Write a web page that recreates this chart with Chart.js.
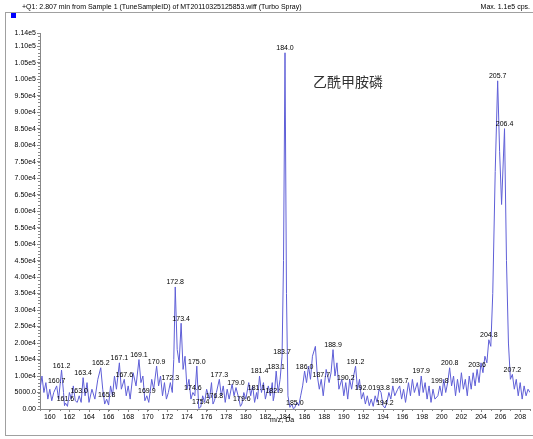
<!DOCTYPE html>
<html><head><meta charset="utf-8">
<script src="https://cdn.jsdelivr.net/npm/chart.js@4.4.0/dist/chart.umd.min.js"></script>
<style>
html,body{margin:0;padding:0;background:#fff;}
#wrap{position:relative;width:533px;height:439px;overflow:hidden;font-family:"Liberation Sans",Arial,sans-serif;}
canvas{position:absolute;left:0;top:0;}
.t{position:absolute;white-space:nowrap;color:#000;line-height:1;}
.ln{position:absolute;background:#a0a0a0;}
</style></head><body>
<div id="wrap">
<canvas id="c" width="533" height="439"></canvas>
<div class="ln" style="left:5px;top:12px;width:528px;height:1px;"></div>
<div class="ln" style="left:5px;top:12px;width:1px;height:424px;"></div>
<div class="ln" style="left:5px;top:435px;width:528px;height:1px;"></div>
<div style="position:absolute;left:11px;top:13px;width:5px;height:5px;background:#0000ff;"></div>
<div class="t" style="left:22px;top:3px;font-size:7px;">+Q1: 2.807 min from Sample 1 (TuneSampleID) of MT20110325125853.wiff (Turbo Spray)</div>
<div class="t" style="right:3px;top:3px;font-size:7px;">Max. 1.1e5 cps.</div>
<div class="t" style="left:313px;top:74px;font-size:14px;font-family:'Noto Sans CJK SC';color:#333;">乙酰甲胺磷</div>
<div class="t" style="left:270px;top:416px;font-size:7px;">m/z, Da</div>
</div>
<script>
// Q1 profile spectrum: m/z and intensity (cps)
const mz = [
159.0,159.2,159.4,159.6,159.8,160.0,160.2,160.4,160.7,160.9,161.2,161.4,161.5,161.6,161.8,
162.0,162.2,162.4,162.6,162.8,163.0,163.2,163.4,163.6,163.8,164.0,164.3,164.6,164.9,165.2,
165.4,165.6,165.8,166.0,166.2,166.4,166.6,166.8,167.1,167.3,167.6,167.8,168.0,168.2,168.5,
168.8,169.1,169.3,169.5,169.7,169.9,170.1,170.4,170.6,170.9,171.1,171.3,171.5,171.7,171.9,
172.1,172.3,172.5,172.65,172.8,173.0,173.2,173.4,173.6,173.8,174.0,174.2,174.4,174.6,174.8,
175.0,175.2,175.4,175.6,175.8,176.0,176.3,176.5,176.65,176.8,177.0,177.3,177.5,177.7,177.9,
178.1,178.3,178.6,178.8,179.0,179.3,179.45,179.6,179.8,180.0,180.3,180.5,180.7,180.9,181.1,
181.2,181.4,181.6,181.8,182.0,182.3,182.5,182.7,182.8,182.9,183.1,183.3,183.5,183.7,183.85,
184.0,184.15,184.3,184.5,184.7,184.85,185.0,185.2,185.4,185.6,185.8,186.0,186.2,186.4,186.6,
186.8,187.1,187.3,187.5,187.7,187.9,188.2,188.5,188.7,188.9,189.1,189.3,189.5,189.8,190.0,
190.2,190.4,190.6,190.8,191.0,191.2,191.4,191.6,191.8,192.0,192.2,192.4,192.6,192.8,193.0,
193.2,193.4,193.6,193.8,194.0,194.2,194.4,194.6,194.8,195.0,195.2,195.5,195.7,195.9,196.1,
196.3,196.6,196.8,197.0,197.2,197.5,197.7,197.9,198.1,198.3,198.5,198.7,198.9,199.1,199.3,
199.6,199.8,200.0,200.2,200.4,200.6,200.8,201.0,201.2,201.4,201.6,201.8,202.0,202.2,202.4,
202.6,202.8,203.0,203.2,203.4,203.6,203.8,204.0,204.2,204.4,204.6,204.8,205.0,205.2,205.45,
205.7,205.9,206.1,206.4,206.6,206.8,207.0,207.2,207.4,207.6,207.8,208.0,208.2,208.4,208.6,
208.8,209.0
];
const intensity = [
6000,10000,5000,8000,3000,6000,2500,5000,7000,3000,11800,5000,1000,1800,800,
5000,3000,7000,2500,2000,4000,2000,9500,4000,8000,2000,6000,3000,9000,12500,
6000,1500,3000,1200,7000,4000,10000,6000,14000,6000,9000,4000,7000,3000,11000,
7000,15000,8000,10000,2500,4000,2000,9000,6000,13000,7000,10000,4000,8000,3000,
5000,8000,5000,15000,37000,18000,14000,26000,12000,16000,6000,9000,3000,5000,4000,
13000,200,600,4000,2000,6000,3000,8000,1500,2500,5000,9000,4000,7000,2000,
6000,3000,7500,4000,6500,3000,800,1500,5000,3000,8000,4000,7000,2000,5000,
3000,10000,5000,8000,3000,7000,4000,8000,2500,4000,11500,5000,9000,16000,45000,
108000,35000,4000,500,1500,100,400,2000,1000,4000,7000,11500,8000,13000,9000,
16000,19000,10000,6000,9000,4000,12000,8000,11000,18000,10000,14000,6000,9000,4000,
8000,3000,9000,6000,10000,13000,6000,9000,3000,5000,1500,4000,1000,3000,800,
4000,2000,6000,5000,1000,300,2000,5000,3000,7000,4000,6000,7000,3000,6000,
2000,8000,4000,9000,5000,8000,4000,10000,5000,8000,3000,7000,2000,6000,3000,
4000,7000,4000,9000,5000,8000,12500,7000,10000,4000,9000,5000,11000,6000,9000,
4000,10000,6000,11000,7000,12000,8000,14000,11000,16000,14000,21000,19000,35000,72000,
99500,78000,62000,85000,45000,20000,9000,10500,6000,9000,4000,8000,3000,7000,4000,
6000,5000
];
// centroided peaks that carry an m/z label
const labelMz = [160.7,161.2,161.6,163.0,163.4,165.2,165.8,167.1,167.6,169.1,169.9,170.9,
172.3,172.8,173.4,174.6,175.0,175.4,176.8,177.3,179.0,179.6,181.1,181.4,182.9,183.1,183.7,
184.0,185.0,186.0,187.7,188.9,190.2,191.2,192.0,193.8,194.2,195.7,197.9,199.8,200.8,203.6,
204.8,205.7,206.4,207.2];
const xTicks = [160,162,164,166,168,170,172,174,176,178,180,182,184,186,188,190,192,194,196,198,200,202,204,206,208];
const yTicks = [0,5000,10000,15000,20000,25000,30000,35000,40000,45000,50000,55000,60000,65000,70000,75000,80000,85000,90000,95000,100000,105000,110000,114000];

const FONT = "Liberation Sans";
const points = mz.map((m, i) => ({x: m, y: intensity[i]}));

function fmtY(v) {
  if (v === 0) return "0.00";
  if (v < 10000) return v.toFixed(1);
  return v.toExponential(2).replace("e+", "e");
}

const minorTicks = {
  id: "minorTicks",
  afterDraw(chart) {
    const {ctx, scales: {x, y}, chartArea: a} = chart;
    ctx.save();
    ctx.strokeStyle = "#888";
    ctx.lineWidth = 1;
    ctx.beginPath();
    for (let v = 0; v <= 114000; v += 1000) {
      const py = Math.round(y.getPixelForValue(v)) + 0.5;
      ctx.moveTo(a.left, py); ctx.lineTo(a.left - 2, py);
    }
    for (let v = 159; v <= 209; v += 1) {
      const px = Math.round(x.getPixelForValue(v)) + 0.5;
      ctx.moveTo(px, a.bottom); ctx.lineTo(px, a.bottom + 2);
    }
    ctx.stroke();
    ctx.restore();
  }
};

const peakLabels = {
  id: "peakLabels",
  afterDatasetsDraw(chart) {
    const {ctx, scales: {x, y}} = chart;
    ctx.save();
    ctx.font = "7px '" + FONT + "'";
    ctx.fillStyle = "#000";
    ctx.textAlign = "center";
    ctx.textBaseline = "bottom";
    labelMz.forEach(m => {
      const i = mz.indexOf(m);
      if (i < 0) return;
      ctx.fillText(m.toFixed(1), x.getPixelForValue(m), y.getPixelForValue(intensity[i]) - 1);
    });
    ctx.restore();
  }
};

new Chart(document.getElementById("c"), {
  type: "line",
  data: {datasets: [{data: points, borderColor: "rgb(95,95,215)", borderWidth: 1,
    pointRadius: 0, tension: 0, fill: false}]},
  options: {
    responsive: false, animation: false, devicePixelRatio: 1,
    layout: {padding: {top: 33, right: 3, bottom: 16, left: 0}},
    plugins: {legend: {display: false}, tooltip: {enabled: false}},
    scales: {
      x: {
        type: "linear", min: 159, max: 209,
        afterBuildTicks: s => { s.ticks = xTicks.map(v => ({value: v})); },
        afterFit: s => { s.height = 14; },
        ticks: {autoSkip: false, maxRotation: 0, padding: 1, color: "#000",
          font: {family: FONT, size: 7}, callback: v => String(v)},
        grid: {drawOnChartArea: false, tickLength: 3, color: "#888"},
        border: {color: "#888"}
      },
      y: {
        min: 0, max: 114000,
        afterBuildTicks: s => { s.ticks = yTicks.map(v => ({value: v})); },
        afterFit: s => { s.width = 40; },
        ticks: {autoSkip: false, padding: 1, color: "#000",
          font: {family: FONT, size: 7}, callback: v => fmtY(v)},
        grid: {drawOnChartArea: false, tickLength: 3, color: "#888"},
        border: {color: "#888"}
      }
    }
  },
  plugins: [minorTicks, peakLabels]
});
</script>
</body></html>
